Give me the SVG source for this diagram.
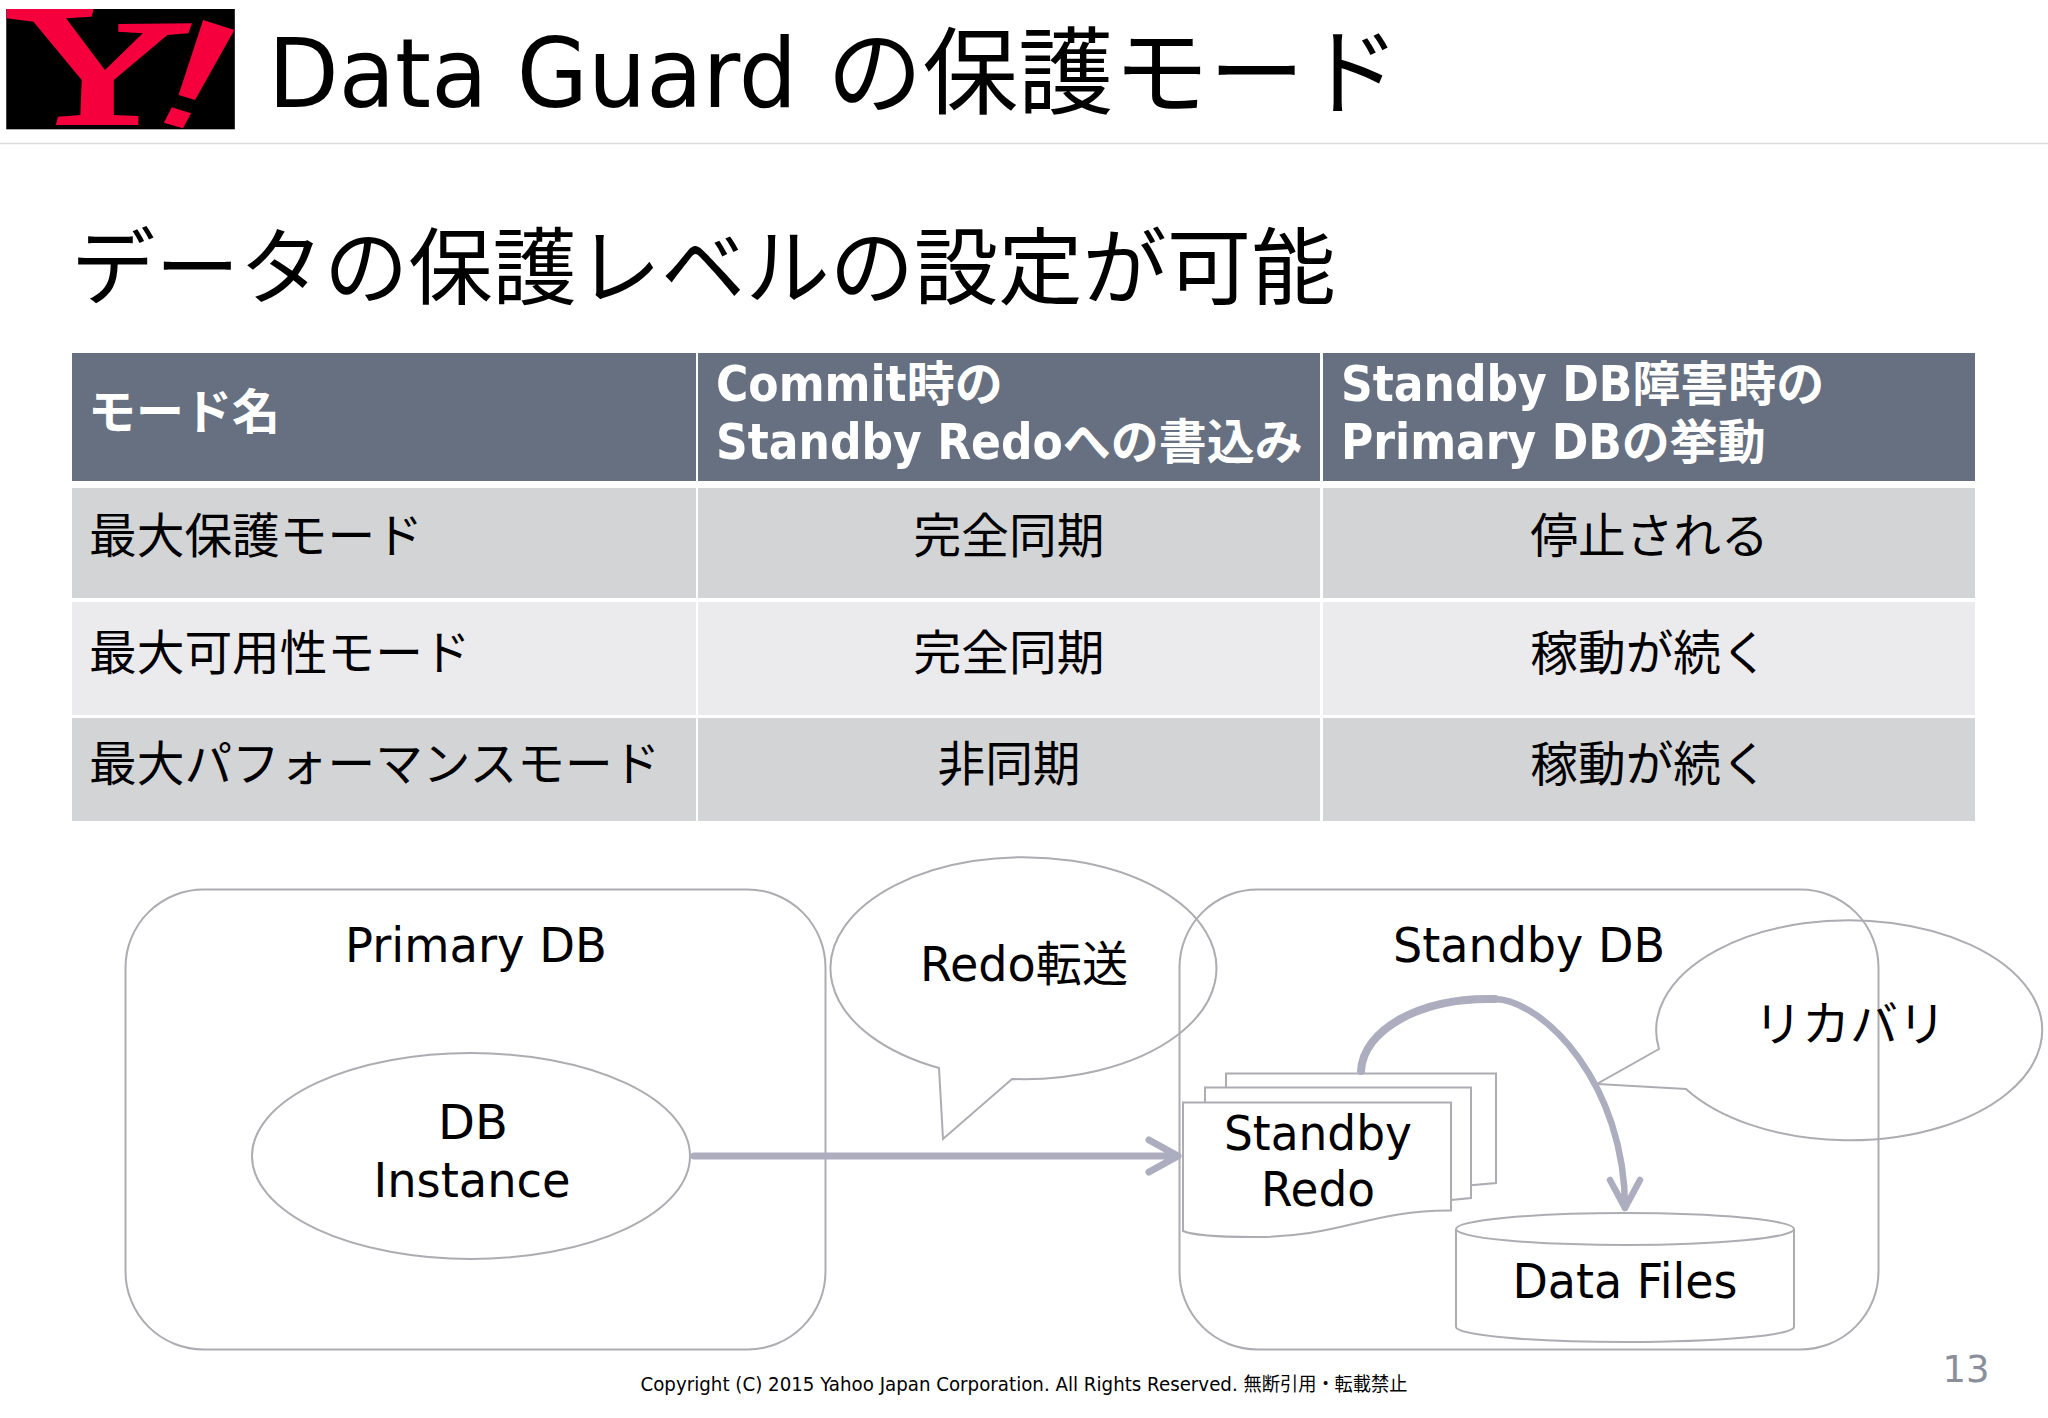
<svg xmlns="http://www.w3.org/2000/svg" width="2048" height="1418" viewBox="0 0 2048 1418">
<style>
text{font-family:"DejaVu Sans","Noto Sans CJK JP",sans-serif;fill:#000}
.h{font-size:48px;font-weight:700;fill:#fff}
.c{font-family:"DejaVu Sans Condensed","DejaVu Sans",sans-serif;font-size:49px}
.b{font-size:47.700px}
.m{text-anchor:middle}
.d{font-size:48px;text-anchor:middle}
.o{fill:none;stroke:#acacb2;stroke-width:2}
.w{fill:#fff;stroke:#acacb2;stroke-width:2}
.a{fill:none;stroke:#acadbe;stroke-width:7;stroke-linecap:round;stroke-linejoin:round}
</style>
<rect width="2048" height="1418" fill="#fff"/>
<g id="logo" transform="scale(0.4464,0.3333)">
<rect x="14" y="27" width="512" height="361" fill="#000"/>
<polygon fill="#f5003c" points="15,27 210,27 205,50 148,55 235,210 320,100 265,95 265,72 430,70 422,100 375,105 255,240 255,345 310,348 310,375 125,375 130,350 180,345 183,240 75,65 15,55"/>
<polygon fill="#f5003c" points="455,60 525,90 437,300 400,285"/>
<polygon fill="#f5003c" points="385,322 428,340 410,385 367,368"/>
</g>
<text y="107" font-size="95.500"><tspan x="268" textLength="529" lengthAdjust="spacingAndGlyphs">Data Guard</tspan><tspan x="827"> </tspan><tspan x="827">の保護モード</tspan></text>
<line x1="0" y1="143.500" x2="2048" y2="143.500" stroke="#dcdcdf" stroke-width="1.500"/>
<text x="71" y="298" font-size="84.300">データの保護レベルの設定が可能</text>
<g id="table">
<rect x="72" y="353" width="624" height="128" fill="#667080"/>
<rect x="698" y="353" width="622" height="128" fill="#667080"/>
<rect x="1323" y="353" width="652" height="128" fill="#667080"/>
<rect x="72" y="488" width="624" height="110" fill="#d2d4d6"/>
<rect x="698" y="488" width="622" height="110" fill="#d2d4d6"/>
<rect x="1323" y="488" width="652" height="110" fill="#d2d4d6"/>
<rect x="72" y="602" width="624" height="113" fill="#ebeaed"/>
<rect x="698" y="602" width="622" height="113" fill="#ebeaed"/>
<rect x="1323" y="602" width="652" height="113" fill="#ebeaed"/>
<rect x="72" y="718" width="624" height="103" fill="#d3d4d6"/>
<rect x="698" y="718" width="622" height="103" fill="#d3d4d6"/>
<rect x="1323" y="718" width="652" height="103" fill="#d3d4d6"/>
<text class="h" x="88" y="429">モード名</text>
<text class="h" x="716" y="401"><tspan class="c">Commit</tspan>時の</text>
<text class="h" x="716" y="459"><tspan class="c">Standby Redo</tspan>への書込み</text>
<text class="h" x="1341" y="401"><tspan class="c">Standby DB</tspan>障害時の</text>
<text class="h" x="1341" y="459"><tspan class="c">Primary DB</tspan>の挙動</text>
<text class="b" x="89" y="553">最大保護モード</text>
<text class="b m" x="1009" y="553">完全同期</text>
<text class="b m" x="1649.500" y="553">停止される</text>
<text class="b" x="89" y="670">最大可用性モード</text>
<text class="b m" x="1009" y="670">完全同期</text>
<text class="b m" x="1649.500" y="670">稼動が続く</text>
<text class="b" x="89" y="781">最大パフォーマンスモード</text>
<text class="b m" x="1009" y="781">非同期</text>
<text class="b m" x="1649.500" y="781">稼動が続く</text>
</g>
<g id="primary-db"><rect class="o" x="125.500" y="889.500" width="700" height="460" rx="78" ry="78"/><text class="d" x="476" y="962" textLength="262" lengthAdjust="spacingAndGlyphs">Primary DB</text></g>
<g id="standby-db"><rect class="o" x="1179.500" y="889.500" width="699" height="460" rx="78" ry="78"/><text class="d" x="1529" y="962" textLength="272" lengthAdjust="spacingAndGlyphs">Standby DB</text></g>
<g id="db-instance"><ellipse class="o" cx="471" cy="1156" rx="219" ry="103"/><text class="d" x="473" y="1139">DB</text><text class="d" x="472" y="1197" textLength="197" lengthAdjust="spacingAndGlyphs">Instance</text></g>
<g id="redo-callout"><path class="o" d="M939,1068 L943,1139 L1012,1079 A193,111 0 1 0 939,1068 Z"/><text class="d" x="1024" y="981" textLength="208" lengthAdjust="spacingAndGlyphs">Redo転送</text></g>
<g id="recovery-callout"><path class="o" d="M1659,1049 L1597,1084 L1686,1089 A193,110 0 1 0 1659,1049 Z"/><text class="d" x="1850" y="1041">リカバリ</text></g>
<g id="standby-redo">
<path class="w" d="M1226,1187V1073.500H1496V1183L1451,1187Z"/>
<path class="w" d="M1205,1198V1087.500H1471V1198L1451,1200Z"/>
<path class="w" d="M1183,1102.500H1451V1210.500C1368,1210 1340,1238 1252,1237C1220,1237 1195,1236 1183,1231Z"/>
<text class="d" x="1318" y="1150" textLength="188" lengthAdjust="spacingAndGlyphs">Standby</text><text class="d" x="1318" y="1206" textLength="114" lengthAdjust="spacingAndGlyphs">Redo</text>
</g>
<g id="data-files">
<path class="w" d="M1456,1229V1327C1456,1335 1530,1342 1625,1342C1720,1342 1794,1335 1794,1327V1229"/>
<ellipse class="w" cx="1625" cy="1229" rx="169" ry="16"/>
<text class="d" x="1625" y="1298" textLength="225" lengthAdjust="spacingAndGlyphs">Data Files</text>
</g>
<g id="connectors">
<path class="a" d="M694,1156H1178M1149,1140L1178,1156L1149,1172"/>
<path class="a" style="stroke-width:8" d="M1361,1071C1363,1030 1420,997 1495,999"/>
<path class="a" style="stroke-width:6.500" d="M1495,999C1545,1001 1625,1085 1625,1208M1610,1180L1625,1208L1640,1180"/>
</g>
<text x="1024" y="1391" font-size="19" text-anchor="middle" fill="#222" textLength="767" lengthAdjust="spacingAndGlyphs">Copyright (C) 2015 Yahoo Japan Corporation. All Rights Reserved. 無断引用・転載禁止</text>
<text x="1966" y="1382" font-size="37" text-anchor="middle" style="fill:#8a8f9c">13</text>
</svg>
